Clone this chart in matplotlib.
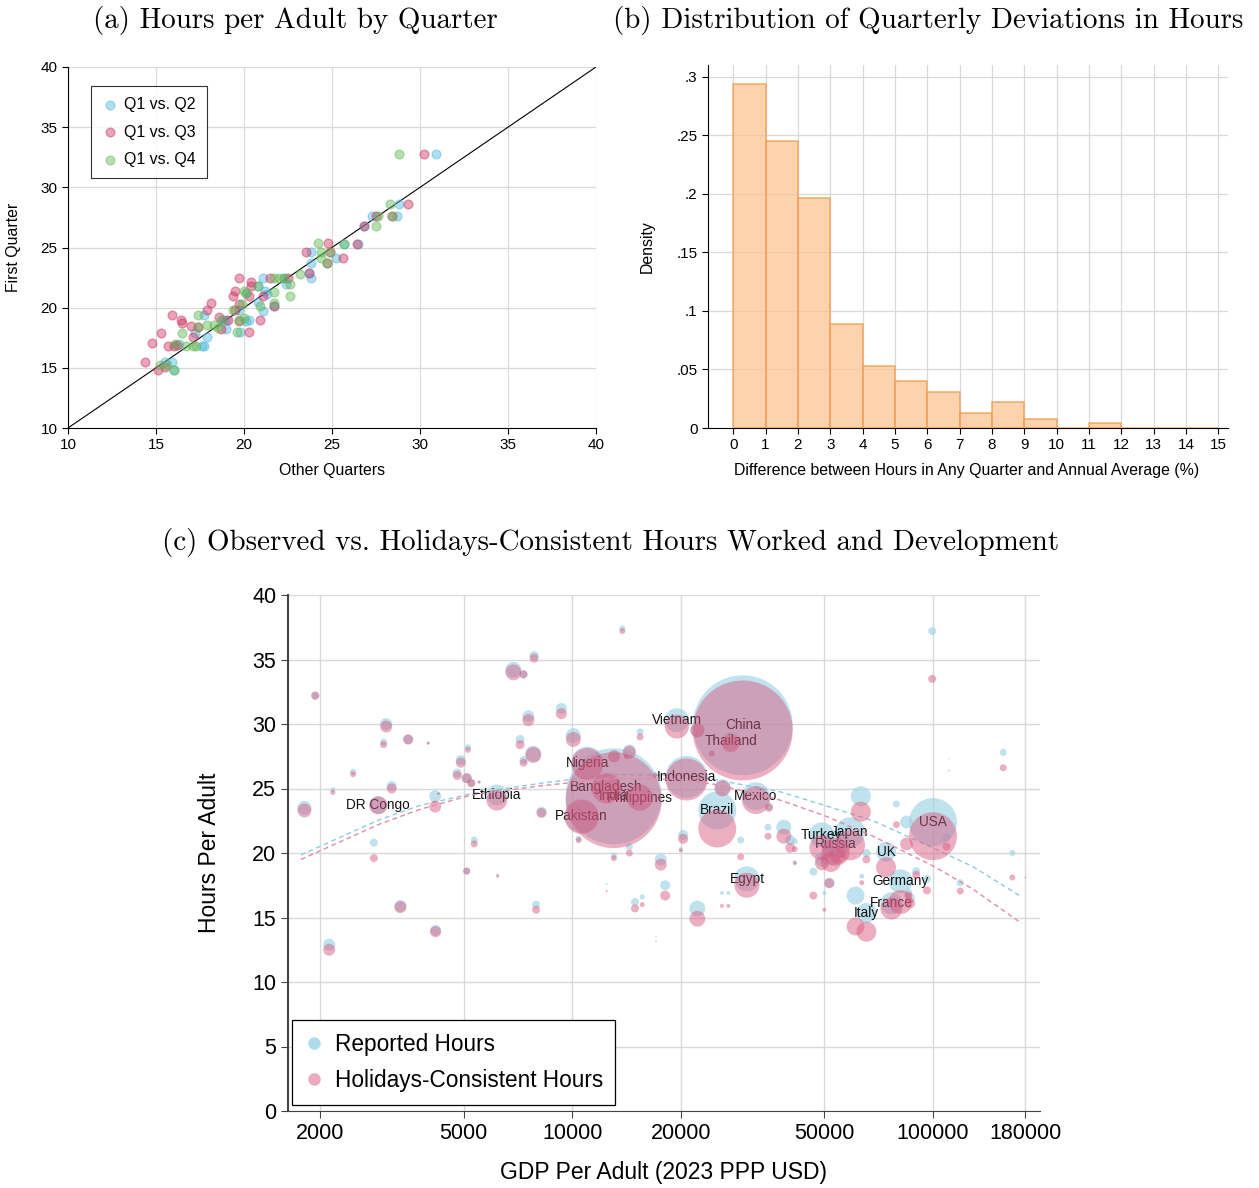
import numpy as np
import matplotlib.pyplot as plt
from matplotlib.lines import Line2D

plt.rcParams['font.family'] = ['Liberation Sans', 'DejaVu Sans']

# ---------------- panel (a): first quarter vs. other quarters ----------------
q2_other = [30.9, 28.8, 28.7, 27.3, 26.8, 25.7, 26.5, 23.8, 25.2, 23.8, 23.7, 23.8, 21.1, 22.4,
            20.8, 21.2, 21.3, 20.8, 21.7, 19.7, 21.1, 17.7, 19.0, 20.3, 20.1, 19.0, 19.8, 17.9,
            17.2, 16.3, 17.6, 17.7, 15.5, 15.9, 16.0, 22.3, 20.1, 18.8]
q2_first = [32.8, 28.6, 27.6, 27.6, 26.8, 25.3, 25.3, 24.6, 24.1, 23.7, 22.9, 22.5, 22.5, 22.0,
            21.8, 21.4, 21.1, 20.5, 20.1, 19.8, 19.7, 19.4, 19.0, 19.0, 18.9, 18.2, 18.0, 17.6,
            17.9, 17.0, 16.8, 16.8, 15.5, 15.5, 14.8, 22.5, 21.2, 19.0]
q3_other = [30.2, 29.3, 28.4, 27.5, 26.8, 24.8, 26.4, 23.5, 24.9, 25.6, 24.7, 23.7, 21.5, 22.5,
            19.7, 20.4, 20.4, 19.5, 19.4, 20.3, 21.1, 21.7, 19.7, 19.5, 18.1, 17.9, 18.6, 19.1,
            19.7, 20.9, 15.9, 16.4, 16.5, 17.0, 17.4, 18.7, 20.3, 15.3, 17.1, 14.8, 15.7, 16.0,
            16.2, 14.4, 15.1, 15.5]
q3_first = [32.8, 28.6, 27.6, 27.6, 26.8, 25.4, 25.3, 24.6, 24.6, 24.1, 23.7, 22.9, 22.5, 22.5,
            22.5, 22.1, 21.8, 21.4, 21.0, 21.0, 21.0, 20.1, 20.3, 19.8, 20.4, 19.8, 19.2, 19.0,
            18.9, 19.0, 19.4, 19.0, 18.7, 18.5, 18.4, 18.2, 18.0, 17.9, 17.6, 17.1, 16.8, 16.8,
            16.9, 15.5, 14.8, 15.1]
q4_other = [28.8, 28.3, 28.4, 27.6, 27.5, 24.2, 25.7, 24.4, 24.9, 24.4, 24.7, 23.2, 21.7, 22.0,
            22.3, 22.6, 22.6, 20.8, 20.0, 21.7, 20.1, 21.7, 20.9, 19.9, 19.4, 17.4, 18.7, 19.7,
            20.0, 17.4, 17.9, 18.3, 18.5, 19.6, 16.5, 16.1, 16.7, 17.1, 17.3, 15.2, 15.6, 16.0]
q4_first = [32.8, 28.6, 27.6, 27.6, 26.8, 25.4, 25.3, 24.6, 24.6, 24.1, 23.7, 22.8, 22.5, 22.5,
            22.5, 22.0, 21.0, 21.8, 21.4, 21.3, 21.2, 20.4, 20.1, 20.3, 19.8, 19.4, 19.0, 19.0,
            19.1, 18.4, 18.6, 18.6, 18.3, 18.0, 17.9, 17.0, 16.8, 16.8, 16.8, 15.2, 15.2, 14.8]

# ---------------- panel (b): histogram of deviations (1% bins) ----------------
bin_left = list(range(15))
density = [0.294, 0.245, 0.196, 0.089, 0.053, 0.040, 0.031, 0.013, 0.022, 0.008,
           0.0, 0.004, 0.0, 0.0, 0.0]

# ---------------- panel (c): bubbles ----------------
gdp = [1940, 3050, 3000, 3510, 3990, 5140, 4910, 4800, 5100, 5250, 5520, 2470, 2170, 3160,
       1810, 2900, 4170, 4260, 2820, 5350, 5100, 3340, 4180, 2120, 13770, 7840, 6870, 7330,
       7560, 9330, 7170, 7800, 7330, 10070, 15420, 14400, 13060, 14100, 11010, 16980, 6180,
       8220, 6210, 7940, 10620, 10420, 13030, 12450, 15400, 14400, 13050, 17600, 18100, 14930,
       15640, 12450, 17070, 19500, 22230, 29700, 27500, 24380, 20750, 26100, 32300, 35100,
       25240, 29300, 20300, 20000, 22230, 30500, 26000, 27100, 34900, 38600, 40200, 41400,
       46600, 50000, 51600, 49200, 58900, 53800, 52100, 54600, 63100, 79200, 84500, 74100,
       81300, 76700, 65400, 61000, 100000, 109000, 99500, 156600, 110700, 166000, 180000,
       119000, 89800, 96200, 85500, 65400, 63500, 41400, 49200, 86400]
hours_rep = [32.2, 30.0, 28.6, 28.8, 28.55, 28.2, 27.2, 26.2, 25.8, 25.45, 25.5, 26.3, 24.9, 25.2,
             23.5, 23.7, 24.4, 24.6, 20.8, 21.0, 18.6, 15.9, 14.0, 12.9, 37.4, 35.3, 34.2, 33.85,
             30.6, 31.2, 28.8, 27.7, 27.2, 29.1, 29.4, 27.9, 27.5, 27.45, 27.0, 26.1, 24.5,
             23.2, 18.3, 16.0, 22.9, 21.1, 24.4, 25.1, 24.3, 20.5, 19.8, 19.5, 17.5, 16.2,
             16.6, 17.6, 13.5, 30.3, 29.5, 29.9, 28.7, 27.7, 25.9, 25.1, 24.4, 23.6,
             23.3, 21.0, 21.4, 20.3, 15.7, 18.0, 16.9, 16.9, 22.0, 22.0, 21.0, 19.3,
             18.55, 16.9, 17.7, 21.4, 21.6, 20.7, 19.8, 20.2, 24.4, 23.8, 22.4, 20.1,
             17.8, 16.1, 15.35, 16.7, 22.4, 21.2, 37.2, 27.8, 27.3, 20.0, 19.9,
             17.7, 18.6, 18.0, 16.9, 20.0, 18.2, 20.9, 19.5, 16.5]
hours_hol = [32.2, 29.8, 28.4, 28.8, 28.5, 28.0, 27.0, 26.0, 25.8, 25.4, 25.5, 26.1, 24.7, 25.0,
             23.3, 23.7, 23.6, 24.6, 19.6, 20.7, 18.6, 15.8, 13.9, 12.5, 37.2, 35.1, 34.0, 33.85,
             30.3, 30.8, 28.4, 27.6, 27.0, 28.8, 29.0, 27.8, 27.5, 27.45, 26.9, 26.0, 24.1,
             23.1, 18.2, 15.6, 22.8, 21.0, 24.1, 25.0, 24.3, 20.0, 19.6, 19.1, 16.7, 15.7,
             16.0, 17.05, 13.2, 29.8, 29.5, 29.5, 28.5, 27.7, 25.7, 25.0, 24.1, 23.5,
             21.9, 19.7, 21.1, 20.2, 14.9, 17.5, 15.9, 15.9, 21.3, 21.3, 20.4, 19.2,
             16.7, 15.6, 17.65, 20.4, 20.6, 20.1, 19.3, 19.8, 23.2, 22.2, 20.7, 18.9,
             16.2, 15.7, 13.9, 14.3, 21.3, 20.5, 33.5, 26.6, 26.4, 18.1, 18.1,
             17.05, 18.3, 17.1, 16.7, 19.5, 17.7, 20.3, 19.2, 16.1]
adults = [7.4, 16.6, 5.6, 11.5, 1.0, 4.1, 11.5, 9.3, 11.5, 7.4, 1.0, 4.1, 2.9, 11.5,
          22.5, 37, 16.6, 0.8, 7.4, 5.6, 5.6, 16.6, 14, 16.6, 4.1, 9.3, 29, 7.4,
          16.6, 14, 9.3, 29, 7.4, 26, 5.6, 19.4, 16.6, 1.8, 118, 2.9, 50,
          11.5, 1.0, 7.4, 133, 4.1, 1060, 104, 78, 5.6, 4.1, 16.6, 11.5, 7.4,
          2.9, 0.5, 0.3, 66, 22.5, 1150, 37, 4.1, 203, 29, 90, 7.4,
          166, 5.6, 11.5, 1.8, 29, 72, 1.8, 1.8, 5.6, 26, 11.5, 1.8,
          7.4, 1.8, 11.5, 72, 104, 90, 46, 29, 46, 5.6, 19.4, 46,
          66, 56, 46, 37, 265, 7.4, 7.4, 5.6, 0.3, 4.1, 0.3,
          5.6, 7.4, 7.4, 7.4, 7.4, 2.9, 4.1, 22.5, 11.5]
names = [''] * len(gdp)
labelled = {15: 'DR Congo', 38: 'Nigeria', 40: 'Ethiopia', 44: 'Pakistan', 46: 'India',
            47: 'Bangladesh', 48: 'Philippines', 57: 'Vietnam', 59: 'China', 60: 'Thailand',
            62: 'Indonesia', 64: 'Mexico', 66: 'Brazil', 71: 'Egypt', 81: 'Turkey',
            82: 'Japan', 83: 'Russia', 89: 'UK', 90: 'Germany', 91: 'France', 92: 'Italy',
            94: 'USA'}
for i, n in labelled.items():
    names[i] = n

# quadratic fit lines
fit_gdp = [1770, 2930, 3800, 5265, 8140, 12970, 19900, 25150, 37700, 50000, 68200, 100000,
           129000, 176000]
fit_rep = [19.85, 22.6, 23.7, 24.6, 25.4, 26.1, 26.0, 25.66, 24.75, 23.7, 22.5, 20.4,
           18.94, 16.6]
fit_hol = [19.5, 22.25, 23.4, 24.5, 25.2, 25.8, 25.7, 25.3, 24.1, 22.9, 21.3, 19.0,
           17.2, 14.55]

W, H = 1259, 1188
fig = plt.figure(figsize=(W / 100, H / 100), dpi=100)

def box(l, t, r, b):
    return [l / W, 1 - b / H, (r - l) / W, (b - t) / H]

grid_c = '#d9d9d9'
serif = 'cmr10'
small = 11.4

# ---- (a)
ax1 = fig.add_axes(box(68, 67, 596, 428))
ax1.plot([10, 40], [10, 40], color='black', lw=0.8, zorder=2)
for xs, ys, c, lab in [(q2_other, q2_first, '#4fb8e0', 'Q1 vs. Q2'),
                       (q3_other, q3_first, '#cc3564', 'Q1 vs. Q3'),
                       (q4_other, q4_first, '#62b856', 'Q1 vs. Q4')]:
    ax1.scatter(xs, ys, s=40, facecolor=c, edgecolor=c, alpha=0.45, lw=1.0, label=lab, zorder=3)
ax1.set_xlim(10, 40)
ax1.set_ylim(10, 40)
ax1.set_xticks(range(10, 41, 5))
ax1.set_yticks(range(10, 41, 5))
ax1.grid(True, color=grid_c, lw=0.9)
ax1.set_axisbelow(True)
for s in ['top', 'right']:
    ax1.spines[s].set_visible(False)
ax1.tick_params(labelsize=11, length=4, direction='out')
leg1 = ax1.legend(loc='upper left', bbox_to_anchor=(0.043, 0.948), fontsize=11.4,
                  frameon=True, fancybox=False, edgecolor='black', handletextpad=0.3,
                  labelspacing=0.8, borderpad=0.7, handlelength=1.1, borderaxespad=0)
leg1.get_frame().set_linewidth(0.8)
fig.text(332 / W, 1 - 471 / H, 'Other Quarters', ha='center', va='center', fontsize=small)
fig.text(14 / W, 1 - 247 / H, 'First Quarter', ha='center', va='center', fontsize=small,
         rotation=90)
fig.text(295 / W, 1 - 20 / H, '(a) Hours per Adult by Quarter', ha='center', va='center',
         fontsize=20.9, family=serif)

# ---- (b)
ax2 = fig.add_axes(box(708, 65, 1228, 428))
ax2.bar(bin_left, density, width=1, align='edge', facecolor='#fcc591', alpha=0.75,
        edgecolor='#ef9a50', lw=1.2, zorder=3)
ax2.set_xlim(-0.78, 15.3)
ax2.set_ylim(0, 0.31)
ax2.set_xticks(range(16))
ax2.set_yticks([0, 0.05, 0.1, 0.15, 0.2, 0.25, 0.3])
ax2.set_yticklabels(['0', '.05', '.1', '.15', '.2', '.25', '.3'])
ax2.grid(True, color=grid_c, lw=0.9)
ax2.set_axisbelow(True)
for s in ['top', 'right']:
    ax2.spines[s].set_visible(False)
ax2.tick_params(labelsize=11, length=4, direction='out')
fig.text(967 / W, 1 - 471 / H,
         'Difference between Hours in Any Quarter and Annual Average (%)',
         ha='center', va='center', fontsize=small)
fig.text(647 / W, 1 - 247 / H, 'Density', ha='center', va='center', fontsize=small,
         rotation=90)
fig.text(928 / W, 1 - 20 / H, '(b) Distribution of Quarterly Deviations in Hours',
         ha='center', va='center', fontsize=20.9, family=serif)

# ---- (c)
ax3 = fig.add_axes(box(288, 595, 1040, 1111))
blue = '#9dd3e6'
pink = '#d9587e'
sizes = np.array(adults) * 4.5
ax3.scatter(gdp, hours_rep, s=sizes, color=blue, alpha=0.65, lw=0, zorder=2)
ax3.plot(fit_gdp, fit_rep, color='#8ccbe0', lw=1.0, ls=(0, (3.5, 2.5)), zorder=2)
for x, y, n in zip(gdp, hours_rep, names):
    if n:
        ax3.text(x, y, n, ha='center', va='center', fontsize=9.8, color='#111111', zorder=3)
ax3.scatter(gdp, hours_hol, s=sizes, color=pink, alpha=0.48, lw=0, zorder=4)
ax3.plot(fit_gdp, fit_hol, color='#e58aa4', lw=1.0, ls=(0, (3.5, 2.5)), zorder=4)
ax3.set_xscale('log')
ax3.set_xlim(1630, 198000)
ax3.set_ylim(0, 40)
xt = [2000, 5000, 10000, 20000, 50000, 100000, 180000]
ax3.set_xticks(xt)
ax3.set_xticklabels([str(v) for v in xt])
ax3.minorticks_off()
ax3.set_yticks(range(0, 41, 5))
ax3.grid(True, color=grid_c, lw=1.0)
ax3.set_axisbelow(True)
for s in ['top', 'right']:
    ax3.spines[s].set_visible(False)
ax3.spines['left'].set_color('#444444')
ax3.spines['left'].set_linewidth(1.5)
ax3.spines['bottom'].set_color('#444444')
ax3.tick_params(labelsize=15.5, length=5, direction='out', color='#444444')
handles = [Line2D([], [], ls='', marker='o', markersize=9, markerfacecolor=blue,
                  markeredgewidth=0, alpha=0.8),
           Line2D([], [], ls='', marker='o', markersize=9, markerfacecolor=pink,
                  markeredgewidth=0, alpha=0.5)]
leg3 = ax3.legend(handles, ['Reported Hours', 'Holidays-Consistent Hours'],
                  loc='lower left', bbox_to_anchor=(0.005, 0.012), fontsize=16.3,
                  frameon=True, fancybox=False, edgecolor='black', framealpha=1,
                  handletextpad=0.45, labelspacing=0.6, borderpad=0.55,
                  handlelength=0.9, borderaxespad=0)
leg3.get_frame().set_linewidth(0.9)
fig.text(664 / W, 1 - 1172 / H, 'GDP Per Adult (2023 PPP USD)', ha='center', va='center',
         fontsize=16.5)
fig.text(210 / W, 1 - 853 / H, 'Hours Per Adult', ha='center', va='center', fontsize=16.5,
         rotation=90)
fig.text(611 / W, 1 - 542 / H,
         '(c) Observed vs. Holidays-Consistent Hours Worked and Development',
         ha='center', va='center', fontsize=20.9, family=serif)

fig.savefig('out.png', dpi=100)
